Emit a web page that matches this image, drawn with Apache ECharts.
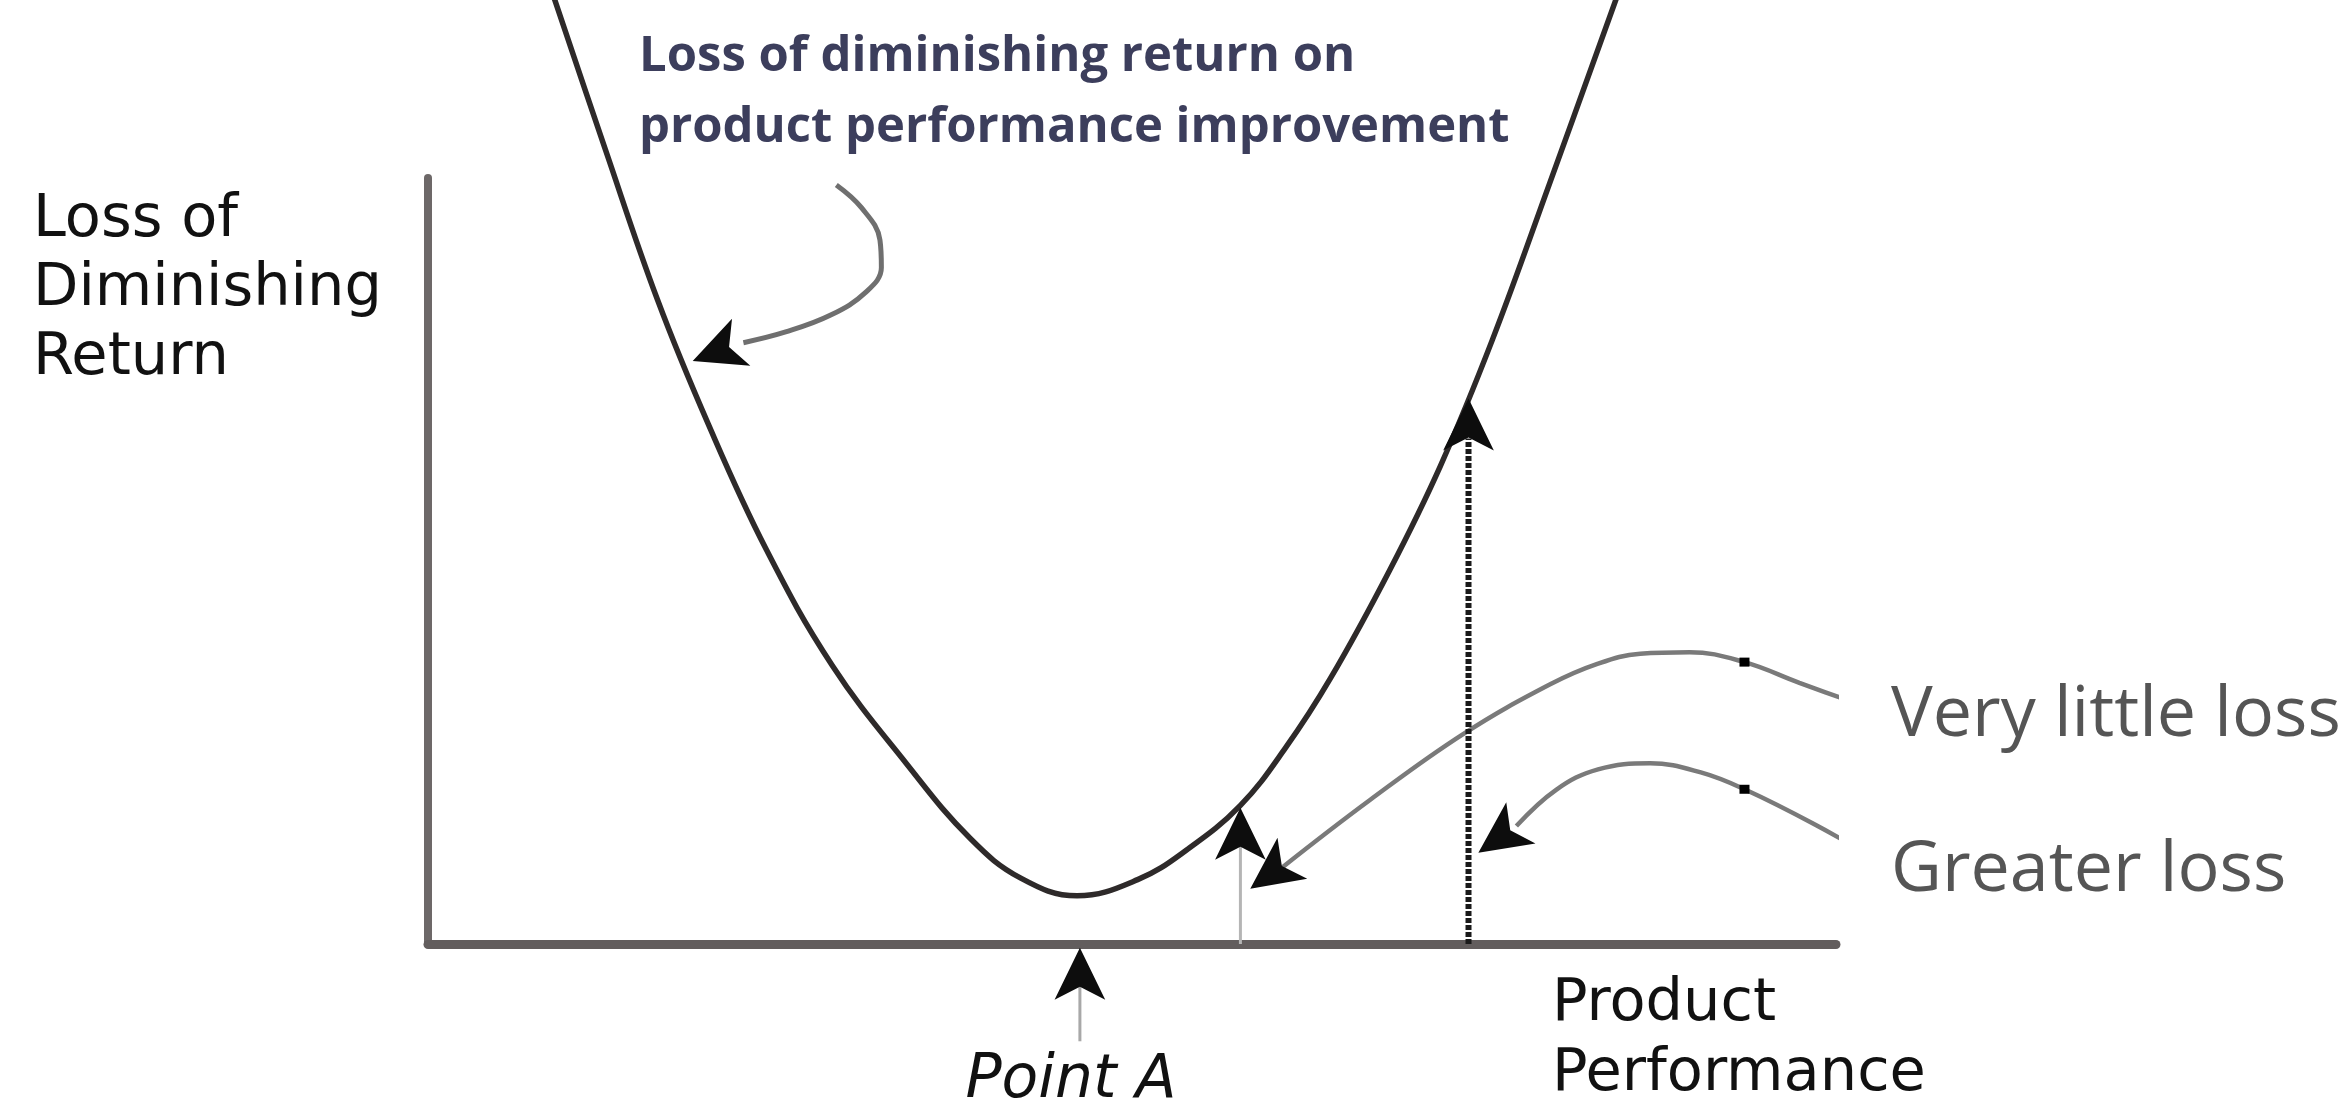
<!DOCTYPE html>
<html>
<head>
<meta charset="utf-8">
<title>Loss of diminishing return</title>
<script src="https://cdn.jsdelivr.net/npm/echarts@6/dist/echarts.min.js"></script>
<style>
  html, body { margin: 0; padding: 0; background: #fff; }
  #chart { width: 2351px; height: 1111px; }
</style>
</head>
<body>
<div id="chart"></div>
<script>
// values, both axes on a 0-100 scale
// main U-shaped loss curve
const curveX = [8.5, 12.6, 16.3, 19.9, 24.0, 28.7, 34.0, 38.5, 42.1, 46.1, 50.4, 53.9, 57.7, 60.9, 64.1, 68.3, 71.9, 75.6, 79.7, 84.9]
const curveY = [126, 103.7, 84.1, 67.9, 51.6, 36.4, 23.5, 13.8, 8.6, 6.3, 8.4, 12.3, 18.1, 25.6, 34.7, 48.8, 62.4, 78.9, 99.5, 126]

// curved pointer from the top note to the curve
const noteX = [29.0, 30.8, 32.1, 32.2, 31.1, 28.6, 25.4, 22.4]
const noteY = [99.1, 96.1, 91.9, 88.3, 85.1, 82.1, 79.9, 78.5]

// pointer from "Very little loss"
const littleX = [103.1, 97.4, 93.5, 89.6, 86.1, 83.1, 79.7, 73.6, 66.9, 60.6]
const littleY = [30.3, 34.1, 36.8, 38.1, 37.9, 36.6, 33.9, 27.5, 18.8, 9.9]

// pointer from "Greater loss"
const greaterX = [103.1, 98.5, 93.5, 90.4, 86.8, 83.1, 80.1, 77.3]
const greaterY = [10.8, 15.6, 20.2, 22.4, 23.6, 22.8, 20.1, 15.4]

// vertical guides: dotted drop line, thin drop line, Point A stem
const guideX = [73.9, 57.7, 46.3]
const guideFrom = [0, 0, -12.7]
const guideTo = [66, 13, -5]

// arrow heads (from -> tip)
const arrowFromX = [22.3, 73.9, 57.7, 46.3, 60.8, 77.3]
const arrowFromY = [78.6, 64.6, 11.0, -7.6, 10.4, 15.4]
const arrowTipX = [18.8, 73.9, 57.7, 46.3, 58.4, 74.6]
const arrowTipY = [76.1, 71.2, 17.8, -0.5, 7.2, 11.9]

// small black knots on the two pointers
const knotX = [93.5, 93.5]
const knotY = [36.8, 20.2]

const zip = (xs, ys) => xs.map((x, i) => [x, ys[i]])

const chart = echarts.init(document.getElementById('chart'))

const lineSeries = (name, data, color, width, extra) => Object.assign({
  name: name,
  type: 'line',
  data: data,
  showSymbol: false,
  symbol: 'none',
  clip: false,
  silent: true,
  lineStyle: { color: color, width: width, cap: 'butt' }
}, extra || {})

const option = {
  animation: false,
  backgroundColor: '#ffffff',
  grid: { left: 428, right: 515, top: 178, bottom: 167, containLabel: false },
  xAxis: {
    type: 'value', min: 0, max: 100,
    axisLine: { show: true, onZero: false, lineStyle: { color: '#625d5d', width: 9 } },
    axisTick: { show: false }, axisLabel: { show: false }, splitLine: { show: false }
  },
  yAxis: {
    type: 'value', min: 0, max: 100,
    axisLine: { show: true, onZero: false, lineStyle: { color: '#6d6868', width: 8 } },
    axisTick: { show: false }, axisLabel: { show: false }, splitLine: { show: false }
  },
  series: [
    lineSeries('loss curve', zip(curveX, curveY), '#2e2a2a', 5.5, { smooth: 0.4, z: 5 }),
    lineSeries('note pointer', zip(noteX, noteY), '#6f6f6f', 5, { smooth: 0.4 }),
    lineSeries('very little loss', zip(littleX, littleY), '#7a7a7a', 4.5, { smooth: 0.4 }),
    lineSeries('greater loss', zip(greaterX, greaterY), '#7a7a7a', 4.5, { smooth: 0.4 }),
    lineSeries('dotted drop', [[guideX[0], guideFrom[0]], [guideX[0], guideTo[0]]], '#1c1c1c', 6,
      { lineStyle: { color: '#1a1a1a', width: 6, type: [5, 2] } }),
    lineSeries('thin drop', [[guideX[1], guideFrom[1]], [guideX[1], guideTo[1]]], '#b5b5b5', 3),
    lineSeries('point A stem', [[guideX[2], guideFrom[2]], [guideX[2], guideTo[2]]], '#a8a8a8', 3),
    {
      name: 'knots', type: 'scatter', clip: false, silent: true,
      data: zip(knotX, knotY), symbol: 'rect', symbolSize: [10, 9],
      itemStyle: { color: '#000', opacity: 1 }, z: 6
    }
  ],
  graphic: [
    {
      type: 'text', x: 33, y: 186, silent: true,
      style: {
        text: 'Loss of\nDiminishing\nReturn', font: '59px "DejaVu Sans"', fill: '#111',
        lineHeight: 69, align: 'left', textAlign: 'left', verticalAlign: 'top', textVerticalAlign: 'top'
      }
    },
    {
      type: 'text', x: 639, y: 22, silent: true,
      style: {
        text: 'Loss of diminishing return on\nproduct performance improvement',
        font: 'bold 49px "Open Sans"', fill: '#3c3e5c',
        lineHeight: 71, align: 'left', textAlign: 'left', verticalAlign: 'top', textVerticalAlign: 'top'
      }
    },
    {
      type: 'text', x: 1891, y: 716, silent: true,
      style: {
        text: 'Very little loss', font: '70px "Open Sans"', fill: '#555555',
        align: 'left', textAlign: 'left', verticalAlign: 'middle', textVerticalAlign: 'middle'
      }
    },
    {
      type: 'text', x: 1891, y: 871, silent: true,
      style: {
        text: 'Greater loss', font: '70px "Open Sans"', fill: '#555555',
        align: 'left', textAlign: 'left', verticalAlign: 'middle', textVerticalAlign: 'middle'
      }
    },
    {
      type: 'text', x: 1552, y: 970, silent: true,
      style: {
        text: 'Product\nPerformance', font: '59px "DejaVu Sans"', fill: '#111',
        lineHeight: 70, align: 'left', textAlign: 'left', verticalAlign: 'top', textVerticalAlign: 'top'
      }
    },
    {
      type: 'text', x: 1071, y: 1081, silent: true,
      style: {
        text: 'Point A', font: 'italic 60px "DejaVu Sans"', fill: '#111',
        align: 'center', textAlign: 'center', verticalAlign: 'middle', textVerticalAlign: 'middle'
      }
    }
  ]
}

chart.setOption(option)

// arrow heads: turn each one along its from->tip direction in pixel space
const arrowData = arrowTipX.map((x, i) => {
  const a = chart.convertToPixel({ gridIndex: 0 }, [arrowFromX[i], arrowFromY[i]])
  const b = chart.convertToPixel({ gridIndex: 0 }, [x, arrowTipY[i]])
  const rot = Math.atan2(a[1] - b[1], b[0] - a[0]) * 180 / Math.PI - 90
  return { value: [x, arrowTipY[i]], symbolRotate: rot }
})

option.series.push({
  name: 'arrows', type: 'scatter', clip: false, silent: true,
  data: arrowData, symbol: 'arrow', symbolSize: [38, 52],
  itemStyle: { color: '#0d0d0d', opacity: 1 }, z: 10
})
chart.setOption(option)
</script>
</body>
</html>
